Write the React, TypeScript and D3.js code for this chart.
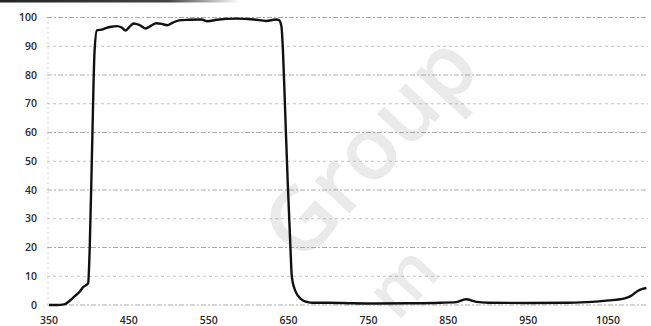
import React, { useEffect, useRef } from 'react';
import * as d3 from 'd3';

// wavelength (nm) and transmission (%)
const wavelength = [
  350, 360, 369, 376, 382, 388, 393, 397, 399, 401, 404, 407, 410,
  416, 421, 428, 435, 441, 446, 451, 456, 463, 471, 478, 484, 491, 498,
  505, 513, 525, 541, 548, 560, 584, 607, 622, 634, 638, 641, 643,
  646, 649, 652, 654, 657, 660, 663, 668, 674, 680,
  700, 730, 760, 800, 840, 860, 872, 885, 900, 950, 1000, 1030, 1051,
  1065, 1072, 1080, 1087, 1093, 1098,
];
const transmission = [
  0, 0, 0.2, 1.5, 3, 4.5, 6.3, 7, 7.5, 20, 55, 88, 95.5,
  95.8, 96.3, 96.8, 97, 96.5, 95.5, 96.8, 97.9, 97.4, 96.2, 97.2, 98, 97.8, 97.3,
  98.2, 99, 99.2, 99.3, 98.7, 99.2, 99.6, 99.3, 98.8, 99.3, 99.1, 97, 88,
  65, 42, 22, 10, 6, 4, 2.8, 1.6, 1.0, 0.8,
  0.8, 0.6, 0.5, 0.6, 0.8, 1.0, 2.0, 1.1, 0.8, 0.7, 0.8, 1.1, 1.6,
  2.0, 2.4, 3.4, 4.9, 5.6, 5.9,
];
const yTicks = [0, 10, 20, 30, 40, 50, 60, 70, 80, 90, 100];
const xTicks = [350, 450, 550, 650, 750, 850, 950, 1050];

const W = 651;
const H = 326;

export default function App() {
  const svgRef = useRef<SVGSVGElement>(null);

  useEffect(() => {
    const svg = d3.select(svgRef.current);
    svg.selectAll('*').remove();

    const x = d3.scaleLinear().domain([350, 1100]).range([49, 648]);
    const y = d3.scaleLinear().domain([0, 100]).range([305, 17.5]);
    const font = "'Open Sans', 'DejaVu Sans', sans-serif";

    // scan artefact at the top edge (cropped title bar)
    const grad = svg.append('defs').append('linearGradient').attr('id', 'topbar');
    grad.append('stop').attr('offset', '0%').attr('stop-color', '#222');
    grad.append('stop').attr('offset', '70%').attr('stop-color', '#444');
    grad.append('stop').attr('offset', '100%').attr('stop-color', '#fff');
    svg.append('rect').attr('x', 0).attr('y', 0).attr('width', 240).attr('height', 2.5)
      .attr('fill', 'url(#topbar)');

    // watermark
    svg.append('text')
      .attr('transform', 'translate(392,168) rotate(-47)')
      .attr('text-anchor', 'middle')
      .attr('font-family', font)
      .attr('font-size', 88)
      .attr('font-weight', 600)
      .attr('fill', '#eaeaea')
      .text('Group');
    svg.append('text')
      .attr('transform', 'translate(420,298) rotate(-47)')
      .attr('text-anchor', 'middle')
      .attr('font-family', font)
      .attr('font-size', 70)
      .attr('font-weight', 600)
      .attr('fill', '#eaeaea')
      .text('m');

    // grid
    svg.append('g')
      .selectAll('line')
      .data(yTicks)
      .enter()
      .append('line')
      .attr('x1', x(350) - 2)
      .attr('x2', x(1100))
      .attr('y1', d => y(d))
      .attr('y2', d => y(d))
      .attr('stroke', '#8a8a8a')
      .attr('stroke-width', 1)
      .attr('stroke-dasharray', d => (d % 20 === 0 ? '5,2,2,2' : '3,3'))
      .attr('opacity', d => (d === 0 || d % 20 === 0 ? 0.7 : 0.5));

    svg.append('line')
      .attr('x1', x(350) - 1).attr('x2', x(350) - 1)
      .attr('y1', y(100)).attr('y2', y(0))
      .attr('stroke', '#aaa')
      .attr('stroke-dasharray', '1,4');

    // y labels
    svg.append('g')
      .selectAll('text')
      .data(yTicks)
      .enter()
      .append('text')
      .attr('x', 37)
      .attr('y', d => y(d))
      .attr('dy', '0.35em')
      .attr('text-anchor', 'end')
      .attr('font-family', font)
      .attr('font-size', 10.5)
      .attr('font-weight', 600)
      .attr('fill', '#2a2a2a')
      .text(d => d);

    // x labels
    svg.append('g')
      .selectAll('text')
      .data(xTicks)
      .enter()
      .append('text')
      .attr('x', d => x(d))
      .attr('y', 324)
      .attr('text-anchor', 'middle')
      .attr('font-family', font)
      .attr('font-size', 10.5)
      .attr('font-weight', 600)
      .attr('fill', '#2a2a2a')
      .text(d => d);

    // curve
    const pts = wavelength.map((w, i) => [w, transmission[i]] as [number, number]);
    const line = d3.line<[number, number]>()
      .x(d => x(d[0]))
      .y(d => y(d[1]))
      .curve(d3.curveMonotoneX);

    svg.append('path')
      .datum(pts)
      .attr('fill', 'none')
      .attr('stroke', '#111')
      .attr('stroke-width', 2.4)
      .attr('stroke-linejoin', 'round')
      .attr('d', line);
  }, []);

  return (
    <div style={{ position: 'fixed', left: 0, top: 0, width: W, height: H, background: '#fff' }}>
      <svg ref={svgRef} width={W} height={H} style={{ display: 'block' }} />
    </div>
  );
}
